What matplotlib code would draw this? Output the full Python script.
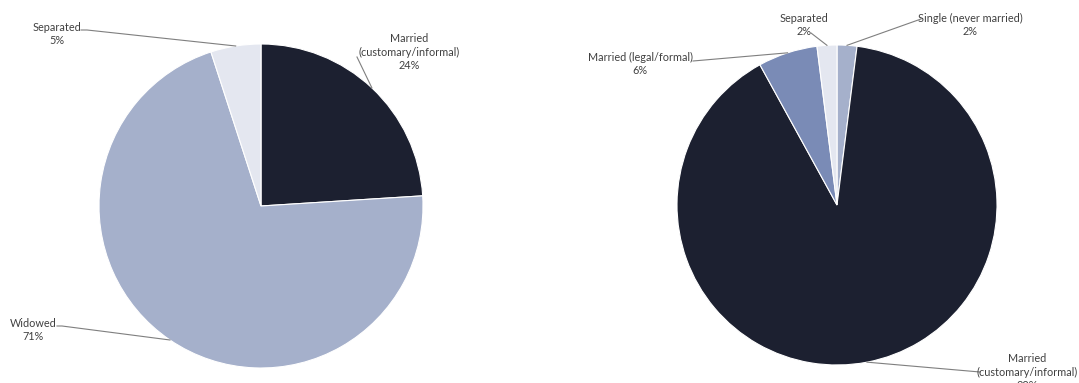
import numpy as np
import matplotlib.pyplot as plt

plt.rcParams['font.family'] = ['Lato', 'DejaVu Sans']

# left pie: status shares
left_labels = ["Married\n(customary/informal)", "Widowed", "Separated"]
left_values = [24, 71, 5]
left_colors = ["#1c2030", "#a5b0cb", "#e4e7f0"]

# right pie: status shares
right_labels = ["Single (never married)", "Married\n(customary/informal)",
                "Married (legal/formal)", "Separated"]
right_values = [2, 90, 6, 2]
right_colors = ["#a5b0cb", "#1c2030", "#7a8bb6", "#e4e7f0"]

W, H = 1079, 383
fig = plt.figure(figsize=(W / 100, H / 100), dpi=100)
ax = fig.add_axes([0, 0, 1, 1])

text_color = "#404040"
line_color = "#7f7f7f"


def draw_pie(values, colors, labels, center, radius, label_pos, elbows):
    ax.pie(values, colors=colors, center=center, radius=radius,
           startangle=90, counterclock=False, frame=True,
           wedgeprops=dict(edgecolor="white", linewidth=0.8))
    total = float(sum(values))
    start = 0.0
    for v, lab, (tx, ty), elbow in zip(values, labels, label_pos, elbows):
        mid = (start + v / 2) / total * 2 * np.pi
        start += v
        ex = center[0] + radius * np.sin(mid)
        ey = center[1] + radius * np.cos(mid)
        ax.text(tx, ty, f"{lab}\n{v}%", ha="center", va="center",
                fontsize=7.8, color=text_color, linespacing=1.25)
        xs = [p[0] for p in elbow] + [ex]
        ys = [p[1] for p in elbow] + [ey]
        ax.plot(xs, ys, color=line_color, lw=0.8)


draw_pie(left_values, left_colors, left_labels, (261, H - 206), 162,
         [(409, H - 52), (33, H - 330), (57, H - 34)],
         [[(357, H - 57)], [(57, H - 326), (62, H - 326)],
          [(81, H - 30), (87, H - 30)]])

draw_pie(right_values, right_colors, right_labels, (837, H - 205), 160,
         [(970, H - 25), (1027, H - 372), (640, H - 64), (804, H - 25)],
         [[(921, H - 19)], [(980, H - 372)], [(693, H - 61)], [(811, H - 33)]])

ax.set_xlim(0, W)
ax.set_ylim(0, H)
ax.set_aspect("equal")
ax.axis("off")

fig.savefig("out.png", dpi=100)
